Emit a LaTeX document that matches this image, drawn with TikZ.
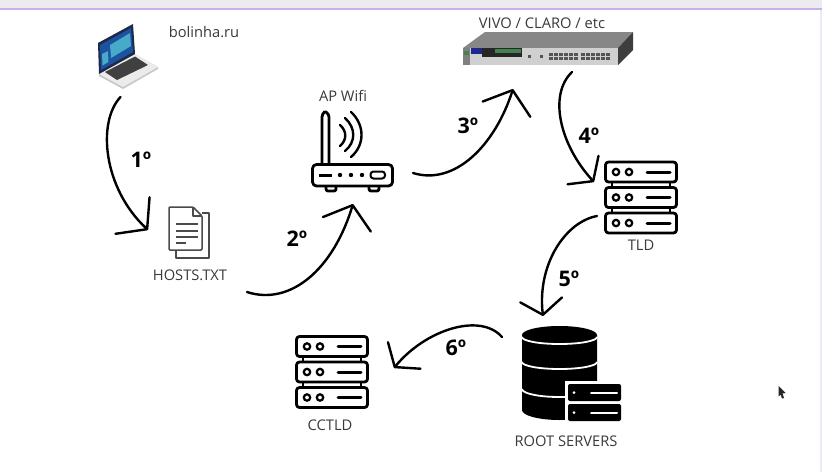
\documentclass[tikz,border=0pt]{standalone}
\usepackage{fontspec}
\setmainfont{Open Sans}
\usepackage{tikz}
\usetikzlibrary{arrows.meta}
\definecolor{inkgrey}{RGB}{58,58,58}
\definecolor{docgrey}{RGB}{75,75,75}
\definecolor{barback}{RGB}{236,236,240}
\definecolor{barline}{RGB}{200,176,232}
\definecolor{edgeline}{RGB}{238,232,250}
\definecolor{lidnavy}{RGB}{28,42,72}
\definecolor{screenblue}{RGB}{28,82,160}
\definecolor{screenteal}{RGB}{70,170,200}
\definecolor{switchtop}{RGB}{135,135,135}
\definecolor{switchfront}{RGB}{208,208,208}
\definecolor{switchside}{RGB}{62,62,62}
\definecolor{portgrey}{RGB}{85,85,85}
\definecolor{switchblue}{RGB}{30,40,140}
\definecolor{switchgreen}{RGB}{70,130,80}

\begin{document}
\begin{tikzpicture}[
    x=1pt, y=-1pt,
    lbl/.style={font=\fontsize{14.7}{17}\selectfont, text=inkgrey, inner sep=0pt},
    stepnum/.style={font=\fontsize{21.5}{24}\selectfont\bfseries, text=black, inner sep=0pt},
    flow/.style={-{Straight Barb[length=20pt, width=50pt, round]}, line width=2.4pt, draw=black, line cap=round},
    flowsmall/.style={flow, -{Straight Barb[length=15pt, width=42pt, round]}},
    outline/.style={draw=black, line width=2.8pt, line join=round},
    docline/.style={draw=docgrey, line width=1.4pt},
    serverstack/.pic={
        \foreach \yy in {-35.5,-10,15.5} {
            \draw[outline, rounded corners=3pt] (-35.5,\yy) rectangle (35.5,\yy+20);
            \draw[black, line width=2.2pt] (-25,\yy+10) circle (3.2);
            \draw[black, line width=2.2pt] (-12,\yy+10) circle (3.2);
            \draw[black, line width=3pt, line cap=round] (6,\yy+10) -- (29,\yy+10);
        }
        \draw[outline, line width=2pt] (-29,-15.5) -- (-29,-10) (29,-15.5) -- (29,-10);
        \draw[outline, line width=2pt] (-29,10) -- (-29,15.5) (29,10) -- (29,15.5);
    }
]
\useasboundingbox (0,0) rectangle (822,472);
\fill[white] (0,0) rectangle (822,472);
\fill[barback] (0,0) rectangle (822,8);
\fill[barline] (0,7.5) rectangle (822,9.5);
\fill[edgeline] (819.5,9.5) rectangle (822,472);

% laptop
\fill[black!22] (99,74) -- (135,54) -- (158,67) -- (158,69) -- (123,89) -- (99,76) -- cycle;
\fill[black!8] (99,74) -- (135,54) -- (158,67) -- (123,87) -- cycle;
\fill[black!75] (105,72) -- (135,56.5) -- (148,65) -- (117,80) -- cycle;
\fill[lidnavy] (98,43) -- (133,24) -- (135,54) -- (99,74) -- cycle;
\fill[screenblue] (100,45) -- (131,28) -- (133,52) -- (101,70) -- cycle;
\fill[screenteal] (110,45) -- (130,33) -- (131,46) -- (111,58) -- cycle;
\fill[screenteal] (102,54) -- (108,51) -- (108.5,62) -- (102.5,65.5) -- cycle;

% hosts file
\draw[docgrey, line width=1.5pt, line join=round] (202,213) -- (209,213) -- (209,258) -- (176,258) -- (176,250);
\draw[docgrey, line width=1.5pt, line join=round, rounded corners=1pt] (193,207) -- (169,207) -- (169,250) -- (202,250) -- (202,216) -- cycle;
\draw[docgrey, line width=1.5pt, line join=round] (193,207) -- (193,216) -- (202,216);
\foreach \yy/\xx in {224/198,231/198,237/198,243/186} {
    \draw[docline] (176,\yy) -- (\xx,\yy);
}

% router
\draw[outline, rounded corners=3pt] (325,111.5) -- (322,114) -- (322,164) (329,164) -- (329,114) -- (325,111.5);
\draw[outline, rounded corners=4pt] (312.5,164.5) rectangle (392.5,186);
\draw[outline, rounded corners=2pt] (326,186) -- (326,191) -- (336,191) -- (336,186);
\draw[outline, rounded corners=2pt] (369,186) -- (369,191) -- (379,191) -- (379,186);
\draw[black, line width=3pt] (319,175) -- (332,175);
\foreach \xx in {340,351,362} {
    \fill[black] (\xx,175) circle (2.2);
}
\draw[black, line width=2pt, rounded corners=3pt] (370.5,171.5) rectangle (385,178.5);
\draw[black, line width=2.4pt, line cap=round] (340,125) .. controls (347,131) and (347,140) .. (340,146);
\draw[black, line width=2.4pt, line cap=round] (345,118) .. controls (356,128) and (356,142) .. (345,151);
\draw[black, line width=2.4pt, line cap=round] (351,112) .. controls (365,125) and (365,145) .. (351,157);

% switch
\fill[switchtop] (463,48) -- (485,32) -- (633,32) -- (618,48) -- cycle;
\fill[switchside] (618,48) -- (633,32) -- (633,50) -- (618,65) -- cycle;
\fill[switchfront] (463,48) rectangle (618,65);
\fill[black!50] (463,48) rectangle (470,65);
\fill[switchgreen] (464,51) rectangle (469,55);
\fill[switchblue] (471,48) rectangle (482,54);
\fill[black!85] (482,48) rectangle (522,57);
\fill[switchgreen] (495,49) rectangle (521,52.5);
\fill[portgrey] (528,55) rectangle (531,58);
\fill[portgrey] (540,55) rectangle (543,58);
\foreach \xx in {549,554,559,564,569,574,581,586,591,596,601,606} {
    \fill[portgrey] (\xx,52.5) rectangle (\xx+4,55.5);
    \fill[portgrey] (\xx,57) rectangle (\xx+4,60);
}

% servers
\pic at (641,197.5) {serverstack};
\pic at (332,372) {serverstack};

% root db
\fill[black] (522,335) -- (522,410) arc[start angle=180, end angle=0, x radius=37.5, y radius=10] -- (597,335) arc[start angle=0, end angle=-180, x radius=37.5, y radius=9] -- cycle;
\draw[white, line width=1.8pt] (522,337) arc[start angle=180, end angle=0, x radius=37.5, y radius=7];
\draw[white, line width=1.8pt] (522,362) arc[start angle=180, end angle=0, x radius=37.5, y radius=7];
\draw[white, line width=1.8pt] (522,389) arc[start angle=180, end angle=0, x radius=37.5, y radius=8];
\fill[white] (565,381) rectangle (624,424);
\foreach \yy in {384,404} {
    \fill[black, rounded corners=2pt] (568,\yy) rectangle (621,\yy+17);
    \fill[white] (574,\yy+8.5) circle (1.5);
    \draw[white, line width=2pt, line cap=round] (591,\yy+8.5) -- (617,\yy+8.5);
}

% cursor
\fill[black!85] (778.5,386) -- (785.5,393) -- (782.5,393.5) -- (784,398) -- (782,398.5) -- (780.5,394.5) -- (778.5,396.5) -- cycle;

% labels
\node[lbl] (site) at (204,32) {bolinha.ru};
\node[lbl] (ap) at (343,96) {AP Wifi};
\node[lbl] (hosts) at (190,275) {HOSTS.TXT};
\node[lbl] (isp) at (542,23) {VIVO / CLARO / etc};
\node[lbl] (tld) at (641,245) {TLD};
\node[lbl] (root) at (566,441) {ROOT SERVERS};
\node[lbl] (cctld) at (330,425) {CCTLD};

\node[stepnum] (n1) at (141,160) {1º};
\node[stepnum] (n2) at (297,239) {2º};
\node[stepnum] (n3) at (468,126) {3º};
\node[stepnum] (n4) at (589,136) {4º};
\node[stepnum] (n5) at (569,279) {5º};
\node[stepnum] (n6) at (456,348) {6º};

% arrows
\coordinate (a1) at (120.5,97);
\coordinate (b1) at (148,230);
\coordinate (a2) at (247,292);
\coordinate (b2) at (353,204);
\coordinate (a3) at (413,173);
\coordinate (b3) at (513,89);
\coordinate (a4) at (572,72);
\coordinate (b4) at (594,182);
\coordinate (a5) at (597,216);
\coordinate (b5) at (543,316);
\coordinate (a6) at (502,337);
\coordinate (b6) at (394,368);

\draw[flow] (a1) .. controls (97,122) and (103,188) .. (b1);
\draw[flow] (a2) .. controls (290,306) and (333,270) .. (b2);
\draw[flow] (a3) .. controls (455,186) and (495,145) .. (b3);
\draw[flowsmall] (a4) .. controls (548,95) and (560,145) .. (b4);
\draw[flowsmall] (a5) .. controls (565,222) and (537,265) .. (b5);
\draw[flowsmall] (a6) .. controls (480,312) and (425,330) .. (b6);
\end{tikzpicture}
\end{document}
